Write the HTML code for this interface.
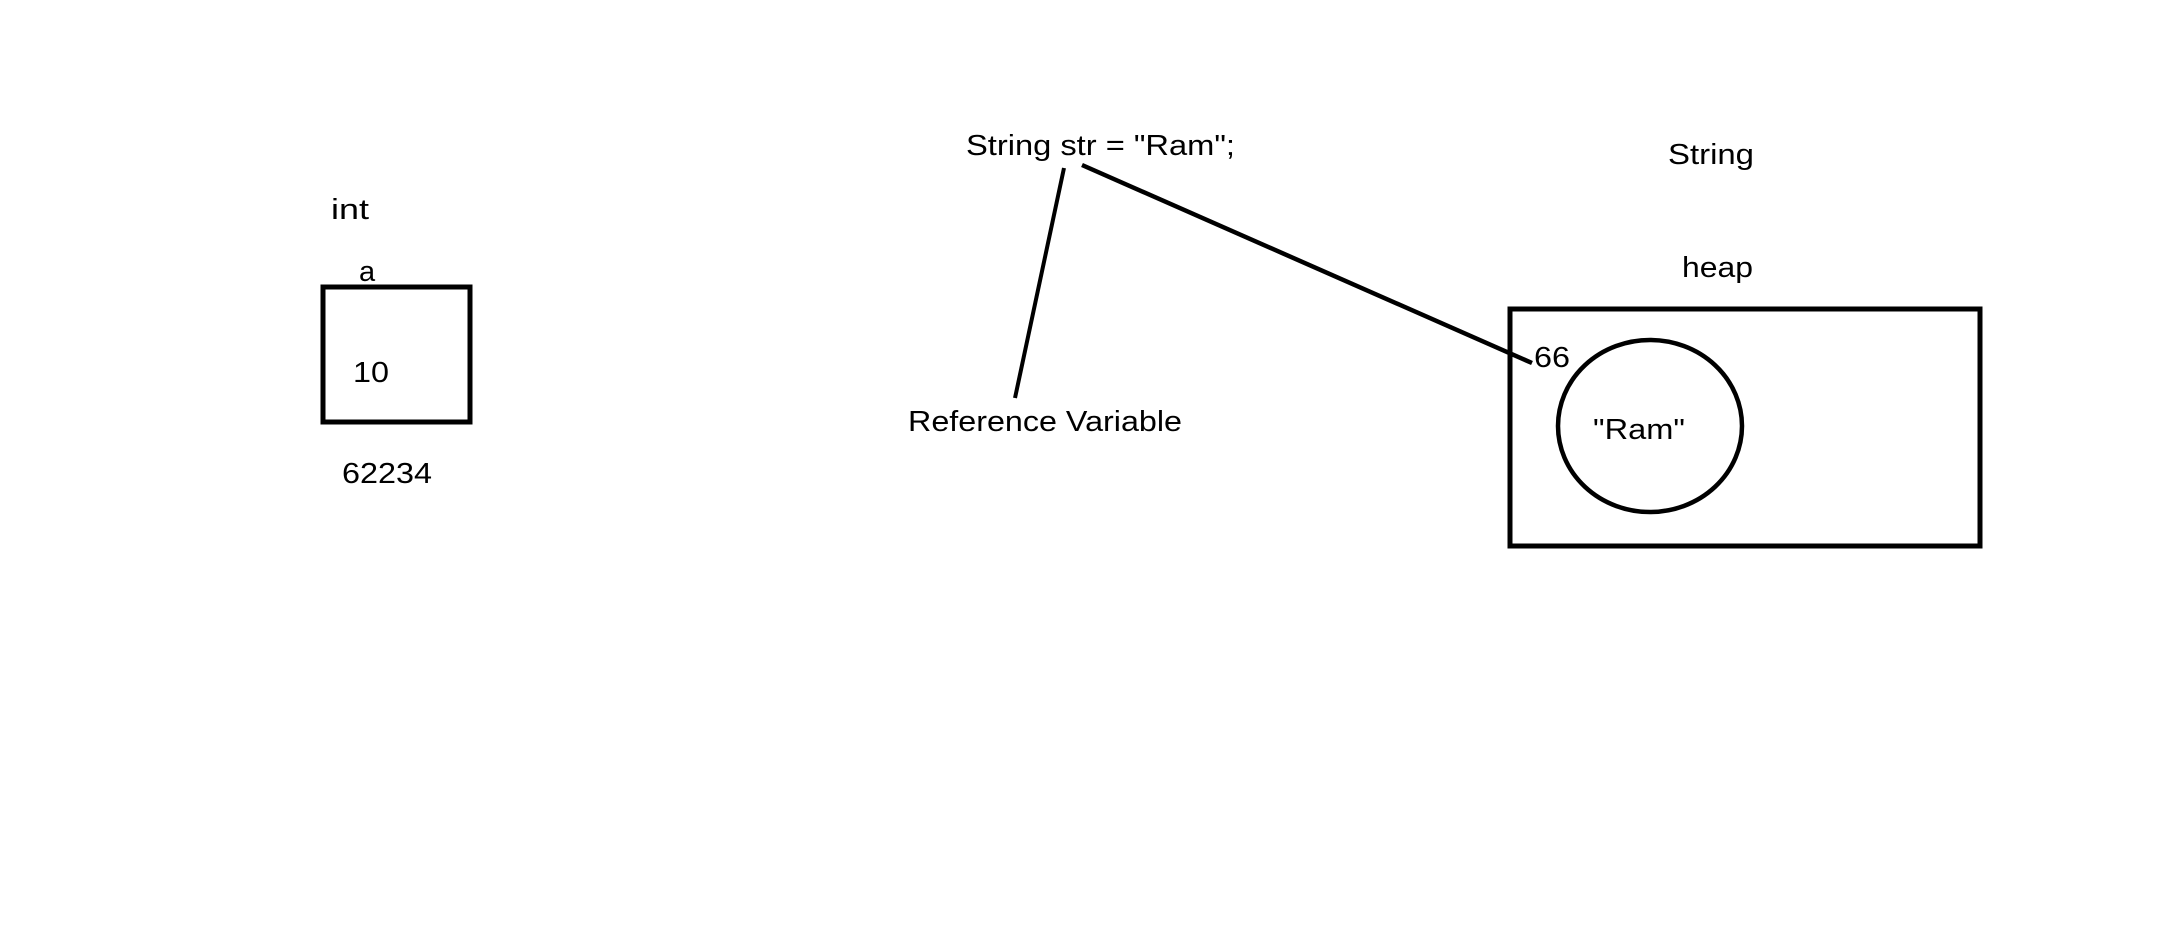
<!DOCTYPE html>
<html><head><style>html,body{margin:0;padding:0;background:#fff;}svg{display:block}</style></head>
<body>
<svg width="2176" height="939" viewBox="0 0 2176 939" xmlns="http://www.w3.org/2000/svg" font-family="Liberation Sans, sans-serif" font-size="29" fill="#000">
<rect x="323" y="287" width="147" height="135" fill="none" stroke="#000" stroke-width="5"/>
<rect x="1510" y="309" width="470" height="237" fill="none" stroke="#000" stroke-width="5"/>
<ellipse cx="1650" cy="426" rx="92" ry="86" fill="none" stroke="#000" stroke-width="4.5"/>
<line x1="1064" y1="168" x2="1015" y2="398" stroke="#000" stroke-width="4"/>
<line x1="1082" y1="165" x2="1532" y2="363" stroke="#000" stroke-width="4.5"/>
<text x="331" y="219" textLength="38" lengthAdjust="spacingAndGlyphs">int</text>
<text x="359" y="281">a</text>
<text x="353" y="382" textLength="36" lengthAdjust="spacingAndGlyphs">10</text>
<text x="342" y="483" textLength="90" lengthAdjust="spacingAndGlyphs">62234</text>
<text x="908" y="431" textLength="274" lengthAdjust="spacingAndGlyphs">Reference Variable</text>
<text x="966" y="155" textLength="269" lengthAdjust="spacingAndGlyphs">String str = "Ram";</text>
<text x="1668" y="164" textLength="86" lengthAdjust="spacingAndGlyphs">String</text>
<text x="1682" y="277" textLength="71" lengthAdjust="spacingAndGlyphs">heap</text>
<text x="1534" y="367" textLength="36" lengthAdjust="spacingAndGlyphs">66</text>
<text x="1593" y="439" textLength="92" lengthAdjust="spacingAndGlyphs">"Ram"</text>
</svg>
</body></html>
